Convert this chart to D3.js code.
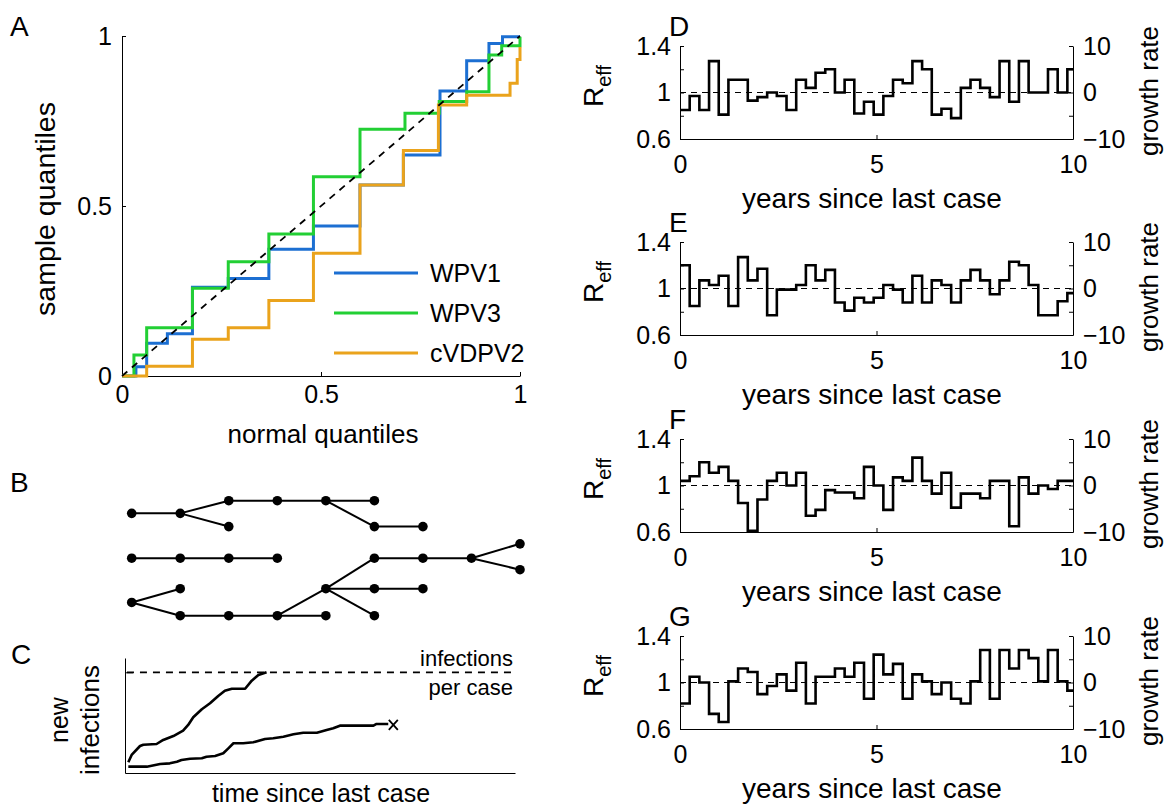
<!DOCTYPE html>
<html><head><meta charset="utf-8">
<script src="https://cdn.jsdelivr.net/npm/d3@7/dist/d3.min.js"></script>
<style>
body{margin:0;background:#fff;}
svg text{font-family:"Liberation Sans",Arial,Helvetica,sans-serif;fill:#000;}
</style></head><body>
<svg id="fig" width="1165" height="807"></svg>
<script>
// ---------- Panel A: QQ step curves ----------
const qqTicks = [0, 0.5, 1];
const qqTickLabels = ["0", "0.5", "1"];
const wpv1X = [0, 0.035, 0.062, 0.114, 0.177, 0.267, 0.369, 0.481, 0.598, 0.707, 0.799, 0.866, 0.922, 0.956, 1.0];
const wpv1Y = [0, 0.027, 0.096, 0.124, 0.261, 0.287, 0.373, 0.441, 0.562, 0.650, 0.838, 0.927, 0.978, 0.998, 0.998];
const wpv3X = [0, 0.030, 0.062, 0.177, 0.267, 0.369, 0.481, 0.598, 0.711, 0.797, 0.866, 0.922, 0.954, 1.0];
const wpv3Y = [0, 0.062, 0.142, 0.258, 0.336, 0.418, 0.586, 0.726, 0.773, 0.807, 0.836, 0.944, 0.971, 0.998];
const cvdpv2X = [0, 0.062, 0.177, 0.267, 0.369, 0.481, 0.598, 0.707, 0.795, 0.866, 0.975, 0.993, 1.0];
const cvdpv2Y = [0, 0.029, 0.108, 0.142, 0.222, 0.361, 0.562, 0.663, 0.797, 0.826, 0.861, 0.931, 0.968];
const seriesNames = ["WPV1", "WPV3", "cVDPV2"];
const seriesColors = ["#1c6fd2", "#22cf34", "#eaa31c"];

// ---------- Panel B: transmission trees (generation, row) ----------
const treeEdges = [
  [0,1.1,1,1.1],[1,1.1,2,0],[1,1.1,2,2.25],[2,0,3,0],[3,0,4,0],[4,0,5,0],[4,0,5,2.25],[5,2.25,6,2.25],
  [0,5,1,5],[1,5,2,5],[2,5,3,5],
  [0,8.85,1,7.65],[0,8.85,1,10],[1,10,2,10],[2,10,3,10],[3,10,4,10],[3,10,4,7.65],
  [4,7.65,5,5],[4,7.65,5,7.65],[4,7.65,5,10],[5,7.65,6,7.65],[5,5,6,5],[6,5,7,5],[7,5,8,3.75],[7,5,8,6]
];

// ---------- Panel C: cumulative new infections ----------
const cUpperX = [0.85,1.7,3.85,4.7,8.1,9.8,12.4,14.9,16.2,17.5,19.7,21.8,23.9,25.6,27.4,30.8,32.5,34.2,36.3];
const cUpperY = [0.106,0.179,0.268,0.281,0.288,0.328,0.367,0.42,0.477,0.553,0.633,0.692,0.765,0.817,0.837,0.837,0.917,0.973,1.0];
const cLowerX = [0.85,5.6,9.0,11.5,13.3,14.5,16.7,19.7,20.9,23.1,25.2,26.5,27.8,30.3,32.9,35.9,38.0,40.6,43.2,45.7,49.2,51.7,53.4,55.1,60.3,63.7,64.5,67.5];
const cLowerY = [0.063,0.063,0.089,0.096,0.112,0.129,0.142,0.146,0.162,0.169,0.196,0.245,0.295,0.295,0.305,0.338,0.345,0.36,0.384,0.4,0.4,0.427,0.444,0.47,0.47,0.47,0.487,0.487];
const cEndMark = [68.8, 0.477];
const cThreshold = 1.0;

// ---------- Panels D-G: R_eff in 90-day bins ----------
const binDays = 90;
const rD = [0.85,0.97,0.85,1.27,0.81,1.11,1.11,0.93,0.96,1.0,0.97,0.85,1.11,1.04,1.17,1.2,1.0,1.11,0.82,0.92,0.81,0.97,1.11,1.08,1.27,1.2,0.81,0.86,0.78,1.04,1.11,1.04,0.96,1.27,0.92,1.27,1.0,1.0,1.2,1.0,1.2];
const rE = [1.2,0.85,1.07,1.03,1.11,0.85,1.27,1.07,1.17,0.77,0.99,0.99,1.03,1.2,1.07,1.16,0.88,0.81,0.92,0.88,0.92,1.03,0.99,0.88,1.11,0.88,1.07,1.03,0.88,1.07,1.16,1.07,0.95,1.07,1.23,1.2,1.03,0.77,0.77,0.89,0.96];
const rF = [1.04,1.08,1.2,1.11,1.16,1.04,0.85,0.61,0.88,1.04,1.11,1.0,1.11,0.74,0.79,0.96,0.94,0.94,0.89,1.16,1.0,0.79,1.07,1.04,1.24,1.04,0.93,1.11,0.81,0.93,0.93,0.89,1.04,1.04,0.65,1.07,0.93,1.0,0.97,1.04,1.04];
const rG = [0.82,1.05,1.0,0.73,0.66,1.01,1.12,1.09,0.9,0.97,1.07,0.93,1.17,0.82,1.05,1.05,1.12,1.05,1.17,0.86,1.24,1.07,1.16,0.86,1.07,1.01,0.9,1.0,0.86,0.82,1.01,1.28,0.86,1.28,1.12,1.28,1.21,1.01,1.28,1.01,0.93];
const rPanels = ["D","E","F","G"];
const rSeries = [rD, rE, rF, rG];
const rTicks = [0.6, 0.8, 1, 1.2, 1.4];
const rTickLabels = ["0.6", "", "1", "", "1.4"];
const gTicks = [-10, -5, 0, 5, 10];
const gTickLabels = ["\u221210", "", "0", "", "10"];
const yearTicks = [0, 5, 10];
const yearTickLabels = ["0", "5", "10"];

// ================= drawing =================
const svg = d3.select("#fig");
svg.append("rect").attr("width", 1165).attr("height", 807).attr("fill", "#fff");
const FS = 25;

function styleAxis(g, fs) {
  g.attr("font-size", fs).attr("font-family", null);
  g.selectAll("path.domain").attr("stroke", "#000").attr("stroke-width", 1);
  g.selectAll(".tick line").attr("stroke", "#000").attr("stroke-width", 1);
  g.selectAll(".tick text").attr("fill", "#000");
}
function label(x, y, s, fs, anchor, rot) {
  const t = svg.append("text").attr("font-size", fs).attr("text-anchor", anchor || "start").text(s);
  if (rot) t.attr("transform", `translate(${x},${y}) rotate(${rot})`);
  else t.attr("x", x).attr("y", y);
  return t;
}

// ----- Panel A -----
const xA = d3.scaleLinear().domain([0, 1]).range([122, 520]);
const yA = d3.scaleLinear().domain([0, 1]).range([376, 36]);
const gA = svg.append("g");
gA.append("g").attr("transform", "translate(0,376)")
  .call(d3.axisBottom(xA).tickValues(qqTicks).tickFormat((d, i) => qqTickLabels[i]).tickSize(-4).tickSizeOuter(0).tickPadding(9))
  .call(g => styleAxis(g, FS));
gA.append("g").attr("transform", "translate(122,0)")
  .call(d3.axisLeft(yA).tickValues(qqTicks).tickFormat((d, i) => qqTickLabels[i]).tickSize(-4).tickSizeOuter(0).tickPadding(10))
  .call(g => styleAxis(g, FS));
const lineA = d3.line().x(d => xA(d[0])).y(d => yA(d[1])).curve(d3.curveStepAfter);
const seriesA = [[wpv1X, wpv1Y], [wpv3X, wpv3Y], [cvdpv2X, cvdpv2Y]];
seriesA.forEach((s, i) => {
  gA.append("path").attr("d", lineA(d3.zip(s[0], s[1]))).attr("fill", "none")
    .attr("stroke", seriesColors[i]).attr("stroke-width", 3).attr("stroke-linejoin", "miter");
});
gA.append("path").attr("d", d3.line().x(d => xA(d)).y(d => yA(d))([0, 1]))
  .attr("stroke", "#000").attr("stroke-width", 1.8).attr("stroke-dasharray", "7,6").attr("fill", "none");
// legend
seriesNames.forEach((n, i) => {
  const y = 273 + i * 40;
  gA.append("line").attr("x1", 334).attr("x2", 418).attr("y1", y).attr("y2", y)
    .attr("stroke", seriesColors[i]).attr("stroke-width", 3);
  gA.append("text").attr("x", 430).attr("y", y + 9).attr("font-size", FS).text(n);
});
label(323, 443, "normal quantiles", 26, "middle");
label(55, 209, "sample quantiles", 28.5, "middle", -90);
label(10, 36, "A", 28);

// ----- Panel B -----
const xB = d3.scaleLinear().domain([0, 8]).range([131.7, 520]);
const yB = d3.scaleLinear().domain([0, 10]).range([500.7, 615.7]);
const gB = svg.append("g");
gB.selectAll("line").data(treeEdges).join("line")
  .attr("x1", d => xB(d[0])).attr("y1", d => yB(d[1])).attr("x2", d => xB(d[2])).attr("y2", d => yB(d[3]))
  .attr("stroke", "#000").attr("stroke-width", 2);
const nodeMap = new Map();
treeEdges.forEach(e => { nodeMap.set(e[0] + "_" + e[1], [e[0], e[1]]); nodeMap.set(e[2] + "_" + e[3], [e[2], e[3]]); });
gB.selectAll("circle").data([...nodeMap.values()]).join("circle")
  .attr("cx", d => xB(d[0])).attr("cy", d => yB(d[1])).attr("r", 4.8).attr("fill", "#000");
label(10, 492, "B", 28);

// ----- Panel C -----
const xC = d3.scaleLinear().domain([0, 100]).range([125, 515]);
const yC = d3.scaleLinear().domain([0, 1.142]).range([773, 658]);
const gC = svg.append("g");
gC.append("g").attr("transform", "translate(0,773)")
  .call(d3.axisBottom(xC).tickValues([]).tickSizeOuter(0)).call(g => styleAxis(g, FS));
gC.append("g").attr("transform", "translate(125,0)")
  .call(d3.axisLeft(yC).tickValues([cThreshold]).tickFormat("").tickSize(-8).tickSizeOuter(0)).call(g => styleAxis(g, FS));
gC.append("line").attr("x1", xC(0.5)).attr("x2", xC(100)).attr("y1", yC(cThreshold)).attr("y2", yC(cThreshold))
  .attr("stroke", "#000").attr("stroke-width", 1.8).attr("stroke-dasharray", "7,6");
const lineC = d3.line().x(d => xC(d[0])).y(d => yC(d[1]));
[[cUpperX, cUpperY], [cLowerX, cLowerY]].forEach(s => {
  gC.append("path").attr("d", lineC(d3.zip(s[0], s[1]))).attr("fill", "none")
    .attr("stroke", "#000").attr("stroke-width", 2.6).attr("stroke-linejoin", "round");
});
const mx = xC(cEndMark[0]), my = yC(cEndMark[1]);
gC.append("path").attr("d", `M${mx-4.5},${my-5}L${mx+4.5},${my+5}M${mx-4.5},${my+5}L${mx+4.5},${my-5}`)
  .attr("stroke", "#000").attr("stroke-width", 1.8);
label(513, 666, "infections", 22, "end");
label(513, 695, "per case", 22, "end");
label(321, 802, "time since last case", FS, "middle");
label(68, 720, "new", FS, "middle", -90);
label(99, 720, "infections", 26, "middle", -90);
label(11, 664, "C", 28);

// ----- Panels D-G -----
const xR = d3.scaleLinear().domain([0, 10]).range([680, 1073]);
const panelTops = [46, 242, 439, 636];
rSeries.forEach((vals, p) => {
  const top = panelTops[p];
  const yR = d3.scaleLinear().domain([0.6, 1.4]).range([top + 93, top]);
  const yGr = d3.scaleLinear().domain([-10, 10]).range([top + 93, top]);
  const g = svg.append("g");
  g.append("g").attr("transform", `translate(0,${top + 93})`)
    .call(d3.axisBottom(xR).tickValues(yearTicks).tickFormat((d, i) => yearTickLabels[i]).tickSize(-4).tickSizeOuter(0).tickPadding(16))
    .call(a => styleAxis(a, FS));
  g.append("g").attr("transform", "translate(680,0)")
    .call(d3.axisLeft(yR).tickValues(rTicks).tickFormat((d, i) => rTickLabels[i]).tickSize(-4).tickSizeOuter(0).tickPadding(9))
    .call(a => styleAxis(a, FS));
  g.append("g").attr("transform", "translate(1073,0)")
    .call(d3.axisRight(yGr).tickValues(gTicks).tickFormat((d, i) => gTickLabels[i]).tickSize(-4).tickSizeOuter(0).tickPadding(10))
    .call(a => styleAxis(a, FS));
  g.append("line").attr("x1", xR(0)).attr("x2", xR(10)).attr("y1", yR(1)).attr("y2", yR(1))
    .attr("stroke", "#000").attr("stroke-width", 1).attr("stroke-dasharray", "6,5");
  const pts = vals.map((v, i) => [i * binDays / 365.25, v]);
  pts.push([10, vals[vals.length - 1]]);
  g.append("path").attr("d", d3.line().x(d => xR(Math.min(d[0], 10))).y(d => yR(d[1])).curve(d3.curveStepAfter)(pts))
    .attr("fill", "none").attr("stroke", "#000").attr("stroke-width", 2.6).attr("stroke-linejoin", "miter");
  label(872, top + 162, "years since last case", 28, "middle");
  const t = label(603, top + 40, "R", 28, "middle", -90);
  t.append("tspan").attr("font-size", 20).attr("dy", 8).text("eff");
  label(1158, top + 45, "growth rate", 26, "middle", -90);
  label(669, top - 10, rPanels[p], 28);
});
</script>
</body></html>
